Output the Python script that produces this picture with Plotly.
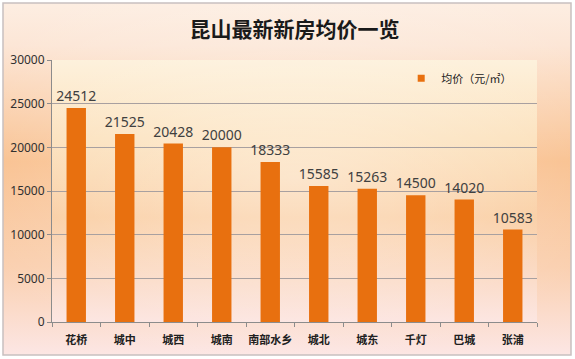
import base64
import plotly.graph_objects as go

categories = ["花桥", "城中", "城西", "城南", "南部水乡", "城北", "城东", "千灯", "巴城", "张浦"]
prices = [24512, 21525, 20428, 20000, 18333, 15585, 15263, 14500, 14020, 10583]
y_ticks = [0, 5000, 10000, 15000, 20000, 25000, 30000]
series_name = "均价（元/㎡）"
title_text = "昆山最新新房均价一览"

W, H = 575, 359
L, R, T, B = 52, 38, 60, 37
pw, ph = W - L - R, H - T - B

def svg_uri(stops, w=100, h=100, radial=False):
    st = "".join(f'<stop offset="{o}" stop-color="{c}"/>' for o, c in stops)
    svg = (f'<svg xmlns="http://www.w3.org/2000/svg" width="{w}" height="{h}" preserveAspectRatio="none">'
           f'<defs><linearGradient id="g" x1="0" y1="0" x2="0" y2="1">{st}</linearGradient>'
           f'<radialGradient id="r" cx="0.5" cy="0.45" r="0.6"><stop offset="0" stop-color="#ffffff" stop-opacity="0.35"/>'
           f'<stop offset="1" stop-color="#ffffff" stop-opacity="0"/></radialGradient></defs>'
           f'<rect width="{w}" height="{h}" fill="url(#g)"/>'
           + (f'<rect width="{w}" height="{h}" fill="url(#r)"/>' if radial else '') + '</svg>')
    return "data:image/svg+xml;base64," + base64.b64encode(svg.encode()).decode()

outer = svg_uri([(0, "#FDEEE2"), (0.12, "#FCE6D6"), (0.45, "#F9C08E"), (0.75, "#FAD0B0"), (1, "#FCE6E4")], radial=True)
inner = svg_uri([(0, "#FDF1DC"), (0.3, "#FCE2BE"), (0.6, "#FACFA5"), (0.85, "#FBDDCB"), (1, "#FCE6E2")], radial=True)

fig = go.Figure()
fig.add_trace(go.Bar(
    x=categories, y=prices, name=series_name,
    marker=dict(color="#E8700F", line=dict(width=0)),
    text=[str(v) for v in prices], textposition="outside", constraintext="none",
    textfont=dict(size=14, color="#404040", family="Noto Sans, Arial"),
    cliponaxis=False, showlegend=False,
))
# legend-only entry with a small square swatch
fig.add_trace(go.Scatter(
    x=[None], y=[None], mode="markers", name=series_name,
    marker=dict(symbol="square", size=7, color="#E8700F"), showlegend=True,
))

fig.update_layout(
    width=W, height=H,
    margin=dict(l=L, r=R, t=T, b=B, autoexpand=False),
    paper_bgcolor="white", plot_bgcolor="rgba(0,0,0,0)",
    bargap=0.6,
    title=dict(text=f"<b>{title_text}</b>", x=0.5, xref="paper", xanchor="center",
               y=1 - 30 / H, yanchor="middle",
               font=dict(size=21, color="#1a1a1a", family="Noto Sans CJK SC")),
    font=dict(family="Noto Sans CJK SC", color="#404040"),
    showlegend=True,
    legend=dict(x=0.72, y=0.93, xanchor="left", yanchor="middle", bgcolor="rgba(0,0,0,0)",
                font=dict(size=11, color="#202020", family="Noto Sans CJK SC"),
                itemwidth=30, traceorder="normal"),
    images=[
        dict(source=outer, xref="paper", yref="paper", x=-L / pw + 3 / pw, y=1 + T / ph - 3 / ph,
             sizex=(W - 7) / pw, sizey=(H - 7) / ph, sizing="stretch", layer="below",
             xanchor="left", yanchor="top"),
        dict(source=inner, xref="paper", yref="paper", x=0, y=1, sizex=1, sizey=1,
             sizing="stretch", layer="below", xanchor="left", yanchor="top"),
    ],
    shapes=[
        dict(type="rect", xref="paper", yref="paper", x0=-L / pw + 3 / pw, x1=1 + (R - 4) / pw,
             y0=-(B - 4) / ph, y1=1 + (T - 3) / ph, line=dict(color="#C8C0C0", width=1.5), layer="above"),
    ],
)

fig.update_xaxes(
    showline=True, linecolor="#8C8C8C", linewidth=1, automargin=False, tickangle=0,
    tickvals=categories, ticktext=[f"<b>{c}</b>" for c in categories],
    ticks="outside", tickson="boundaries", ticklen=4, tickcolor="#8C8C8C",
    ticklabelstandoff=8,
    tickfont=dict(size=11, color="#202020", family="Noto Sans CJK SC"),
    showgrid=False,
)
fig.update_yaxes(
    range=[0, 30000], tickvals=y_ticks, ticktext=[str(v) for v in y_ticks],
    showline=True, linecolor="#8C8C8C", linewidth=1, automargin=False,
    ticks="outside", ticklen=4, tickcolor="#8C8C8C",
    showgrid=True, gridcolor="#A8A0A0", gridwidth=1,
    tickfont=dict(size=12, color="#303030", family="Noto Sans, Arial"),
    zeroline=False,
)

fig.write_html("out.html", config={"displayModeBar": False},
               post_script="document.body.style.margin='0';document.body.style.overflow='hidden';")
